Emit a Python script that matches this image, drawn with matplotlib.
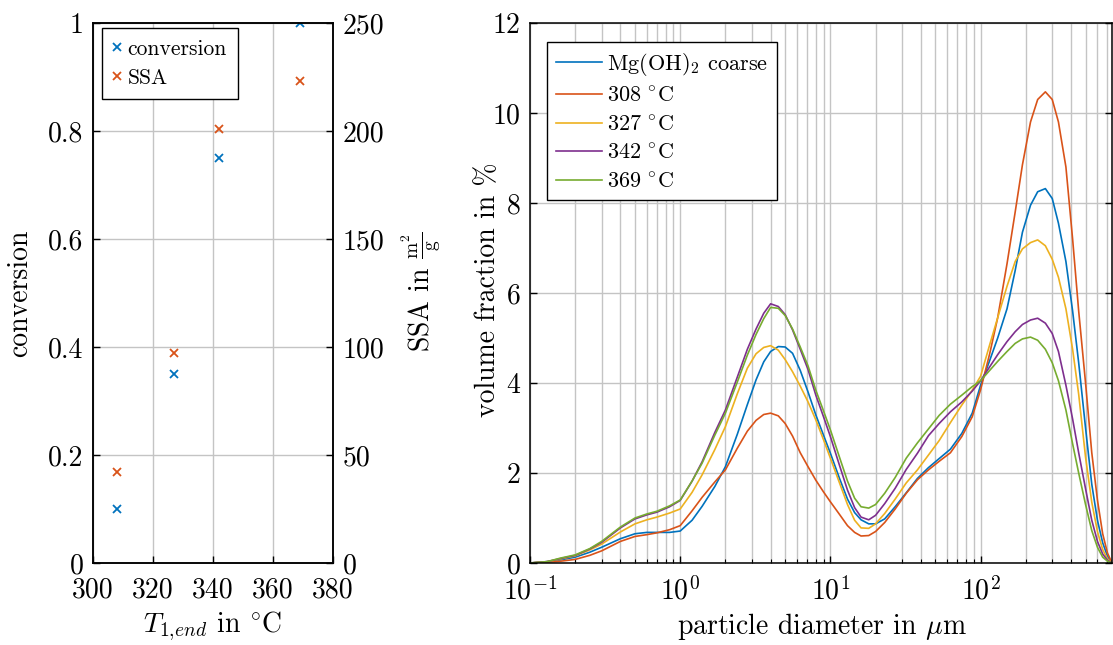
import numpy as np
import matplotlib
matplotlib.use("Agg")
import matplotlib.pyplot as plt
from matplotlib.ticker import FuncFormatter, LogLocator, NullFormatter

# ---- data: conversion and specific surface area vs. end temperature ----
t_end = [308, 327, 342, 369]
conversion = [0.10, 0.35, 0.75, 1.00]
ssa = [42, 97, 201, 223]

# ---- data: particle size distributions (volume fraction in %) ----
diameter_um = [0.1, 0.13, 0.16, 0.2, 0.25, 0.3, 0.4, 0.5, 0.6, 0.7, 0.85,
               1.0, 1.2, 1.4, 1.7, 2.0, 2.4, 2.8, 3.2, 3.6, 4.0,
               4.5, 5.0, 5.6, 6.3, 7.1, 8.0, 9.0, 10, 11.5, 13,
               14.5, 16, 18, 20, 23, 27, 32, 38, 45, 53,
               63, 75, 88, 100, 115, 130, 150, 170, 190, 215,
               240, 270, 300, 330, 370, 410, 450, 500, 550, 600,
               650, 700, 750]
psd_coarse = [0.0, 0.03, 0.07, 0.13, 0.24, 0.35, 0.54, 0.65, 0.68, 0.68, 0.68,
              0.71, 0.95, 1.26, 1.70, 2.14, 2.86, 3.52, 4.07, 4.47, 4.70,
              4.81, 4.80, 4.66, 4.28, 3.80, 3.29, 2.84, 2.44, 1.88, 1.42,
              1.12, 0.96, 0.87, 0.87, 0.98, 1.25, 1.56, 1.88, 2.12, 2.32,
              2.53, 2.88, 3.33, 3.95, 4.50, 5.00, 5.65, 6.50, 7.35, 7.95,
              8.25, 8.32, 8.10, 7.55, 6.70, 5.60, 4.45, 3.00, 1.75, 0.95,
              0.45, 0.15, 0.0]
psd_308 = [0.0, 0.02, 0.04, 0.08, 0.17, 0.27, 0.48, 0.59, 0.63, 0.67, 0.74,
           0.83, 1.16, 1.46, 1.80, 2.07, 2.55, 2.93, 3.17, 3.30, 3.33,
           3.27, 3.10, 2.82, 2.45, 2.14, 1.84, 1.58, 1.36, 1.08, 0.83,
           0.68, 0.60, 0.61, 0.70, 0.90, 1.20, 1.55, 1.85, 2.07, 2.26,
           2.45, 2.81, 3.25, 3.85, 4.65, 5.45, 6.65, 7.80, 8.85, 9.80,
           10.30, 10.47, 10.30, 9.80, 8.80, 7.20, 5.60, 4.00, 2.45, 1.40,
           0.65, 0.22, 0.0]
psd_327 = [0.0, 0.03, 0.09, 0.16, 0.29, 0.42, 0.69, 0.87, 0.96, 1.02, 1.11,
           1.20, 1.57, 1.96, 2.52, 3.03, 3.76, 4.33, 4.65, 4.79, 4.83,
           4.73, 4.52, 4.25, 3.93, 3.58, 3.18, 2.74, 2.33, 1.78, 1.30,
           0.95, 0.78, 0.77, 0.87, 1.10, 1.42, 1.78, 2.07, 2.40, 2.72,
           3.12, 3.51, 3.84, 4.15, 4.85, 5.45, 6.15, 6.70, 6.98, 7.12,
           7.18, 7.05, 6.75, 6.35, 5.65, 4.75, 3.75, 2.35, 1.35, 0.70,
           0.30, 0.09, 0.0]
psd_342 = [0.0, 0.03, 0.10, 0.17, 0.31, 0.46, 0.78, 0.98, 1.07, 1.13, 1.25,
           1.39, 1.82, 2.25, 2.90, 3.40, 4.13, 4.75, 5.20, 5.55, 5.76,
           5.70, 5.52, 5.18, 4.75, 4.30, 3.73, 3.25, 2.81, 2.17, 1.62,
           1.23, 1.02, 0.96, 1.06, 1.32, 1.66, 2.08, 2.44, 2.83, 3.10,
           3.36, 3.58, 3.82, 4.05, 4.36, 4.63, 4.92, 5.14, 5.30, 5.40,
           5.44, 5.33, 5.10, 4.70, 3.95, 3.20, 2.45, 1.65, 0.95, 0.48,
           0.20, 0.06, 0.0]
psd_369 = [0.0, 0.03, 0.11, 0.18, 0.32, 0.48, 0.80, 1.00, 1.09, 1.15, 1.27,
           1.40, 1.82, 2.22, 2.84, 3.33, 4.02, 4.62, 5.08, 5.43, 5.68,
           5.66, 5.50, 5.20, 4.80, 4.38, 3.84, 3.38, 2.96, 2.35, 1.82,
           1.44, 1.25, 1.22, 1.30, 1.55, 1.90, 2.33, 2.67, 2.98, 3.28,
           3.53, 3.73, 3.92, 4.05, 4.28, 4.48, 4.70, 4.88, 4.98, 5.02,
           4.95, 4.75, 4.45, 4.05, 3.40, 2.65, 2.00, 1.30, 0.72, 0.35,
           0.13, 0.04, 0.0]

psd_series = [psd_coarse, psd_308, psd_327, psd_342, psd_369]
psd_labels = [r"Mg(OH)$_2$ coarse", r"$308\ ^{\circ}\mathrm{C}$",
              r"$327\ ^{\circ}\mathrm{C}$", r"$342\ ^{\circ}\mathrm{C}$",
              r"$369\ ^{\circ}\mathrm{C}$"]

colors = ["#0072BD", "#D95319", "#EDB120", "#7E2F8E", "#77AC30"]
grid_color = "#c4c4c4"

plt.rcParams.update({
    "font.family": ["cmr10", "DejaVu Serif"],
    "mathtext.fontset": "cm",
    "axes.unicode_minus": False,
    "axes.formatter.use_mathtext": True,
    "font.size": 20,
    "axes.linewidth": 1.1,
    "xtick.direction": "in",
    "ytick.direction": "in",
    "xtick.major.size": 5,
    "ytick.major.size": 5,
    "xtick.minor.size": 3,
    "xtick.major.width": 1.0,
    "ytick.major.width": 1.0,
    "xtick.minor.width": 0.8,
})

W, H = 1113, 645
fig = plt.figure(figsize=(W / 100, H / 100), dpi=100)

# ---------------- left panel ----------------
ax1 = fig.add_axes([93 / W, 82 / H, 240 / W, 540 / H])
ax1.set_xlim(300, 380)
ax1.set_ylim(0, 1)
ax1.set_xticks([300, 320, 340, 360, 380])
ax1.set_yticks([0, 0.2, 0.4, 0.6, 0.8, 1.0])
ax1.yaxis.set_major_formatter(FuncFormatter(lambda v, p: f"{v:g}"))
ax1.xaxis.set_major_formatter(FuncFormatter(lambda v, p: f"{v:g}"))
ax1.grid(True, color=grid_color, lw=1.0)
ax1.set_axisbelow(True)
ax1.tick_params(axis="y", pad=7, right=False)
ax1.tick_params(axis="x", pad=10, top=False)

ax2 = ax1.twinx()
ax2.set_ylim(0, 250)
ax2.set_yticks([0, 50, 100, 150, 200, 250])
ax2.yaxis.set_major_formatter(FuncFormatter(lambda v, p: f"{v:g}"))
ax2.tick_params(axis="y", pad=7)

h1, = ax1.plot(t_end, conversion, "x", color=colors[0], ms=5.5, mew=1.3,
               label="conversion")
h2, = ax2.plot(t_end, ssa, "x", color=colors[1], ms=5.5, mew=1.3,
               label="SSA")
leg1 = ax2.legend([h1, h2], ["conversion", "SSA"], loc="upper left",
                  bbox_to_anchor=(0.037, 0.99), borderaxespad=0,
                  fontsize=15.5, handlelength=0.4, handletextpad=0.3,
                  borderpad=0.5, labelspacing=0.45, fancybox=False,
                  framealpha=1, edgecolor="black")
leg1.get_frame().set_linewidth(1.0)

fig.text(20 / W, 1 - 293 / H, "conversion", rotation=90,
         ha="center", va="center", fontsize=20)
fig.text(213 / W, 1 - 626 / H, r"$T_{1,\!end}$ in $^{\circ}\mathrm{C}$",
         ha="center", va="center", fontsize=20)
fig.text(421 / W, 1 - 292 / H,
         r"SSA in $\frac{\mathrm{m}^2}{\mathrm{g}}$", rotation=90,
         ha="center", va="center", fontsize=20)

# ---------------- right panel ----------------
ax3 = fig.add_axes([530 / W, 82 / H, 582 / W, 540 / H])
for vals, lab, col in zip(psd_series, psd_labels, colors):
    ax3.plot(diameter_um, vals, color=col, lw=1.2, label=lab)
ax3.set_xscale("log")
ax3.set_xlim(0.1, 750)
ax3.set_ylim(0, 12)
ax3.set_yticks(range(0, 13, 2))
ax3.yaxis.set_major_formatter(FuncFormatter(lambda v, p: f"{v:g}"))
ax3.xaxis.set_major_locator(LogLocator(base=10, numticks=10))
ax3.xaxis.set_minor_locator(LogLocator(base=10, subs=np.arange(2, 10),
                                       numticks=50))
ax3.xaxis.set_minor_formatter(NullFormatter())
ax3.grid(True, which="major", axis="both", color=grid_color, lw=1.0)
ax3.grid(True, which="minor", axis="x", color=grid_color, lw=1.0)
ax3.set_axisbelow(True)
ax3.tick_params(axis="y", which="both", pad=7, right=True)
ax3.tick_params(axis="x", which="both", pad=10, top=False)

leg2 = ax3.legend(loc="upper left", bbox_to_anchor=(0.029, 0.965),
                  borderaxespad=0, fontsize=16, handlelength=2.1,
                  handletextpad=0.2, borderpad=0.4, labelspacing=0.4,
                  fancybox=False, framealpha=1, edgecolor="black")
leg2.get_frame().set_linewidth(1.0)

fig.text(488 / W, 1 - 290 / H, "volume fraction in %", rotation=90,
         ha="center", va="center", fontsize=20)
fig.text(822 / W, 1 - 627 / H, r"particle diameter in $\mu$m",
         ha="center", va="center", fontsize=20)

fig.savefig("out.png", dpi=100)
